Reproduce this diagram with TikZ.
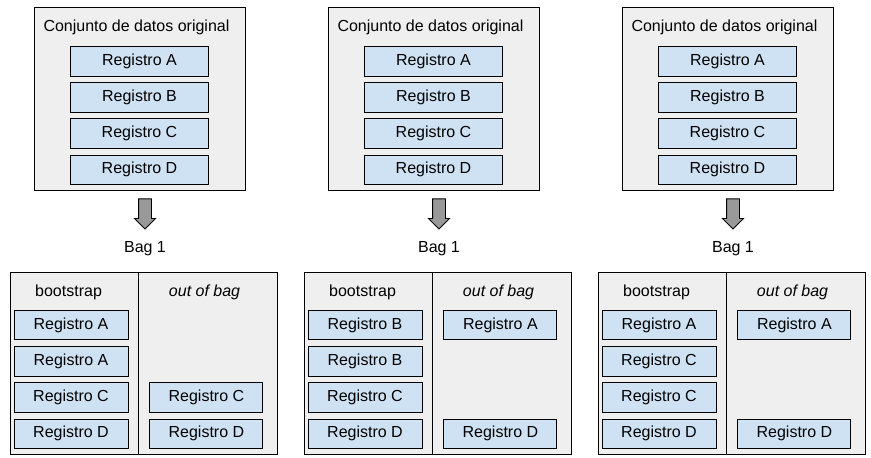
\documentclass[tikz,border=0pt]{standalone}
\usepackage{fontspec}
\setmainfont{Liberation Sans}
\usetikzlibrary{calc,positioning,shapes.arrows}
\definecolor{boxgray}{HTML}{EFEFEF}
\definecolor{recblue}{HTML}{CFE2F3}
\definecolor{arrowgray}{HTML}{999999}

\begin{document}
\begin{tikzpicture}[x=1pt, y=1pt, line width=0.9pt, font=\fontsize{16}{19}\selectfont]
    % Define styles for boxes, records, arrows and headings
    \tikzstyle{dataset} = [draw, fill=boxgray, rectangle, minimum width=211pt, minimum height=183pt, inner sep=0pt]
    \tikzstyle{bagbox} = [draw, fill=boxgray, rectangle, minimum width=267pt, minimum height=182pt, inner sep=0pt, anchor=north]
    \tikzstyle{record} = [draw, fill=recblue, rectangle, minimum width=138pt, minimum height=29.5pt, inner sep=0pt]
    \tikzstyle{bootrec} = [record, minimum width=114pt]
    \tikzstyle{oobrec} = [record, minimum width=113pt]
    \tikzstyle{bigarrow} = [draw, fill=arrowgray, single arrow, shape border rotate=270, minimum height=30pt, minimum width=20pt, single arrow head extend=4pt, single arrow head indent=0pt, inner sep=6pt, anchor=tail]
    \tikzstyle{heading} = [inner sep=0pt, anchor=base]

    \useasboundingbox (0,0) rectangle (871,-458);

    % Original data sets
    \node [dataset] (dataset1) at (139.5,-98.5) {};
    \node [dataset, right of=dataset1, node distance=294pt] (dataset2) {};
    \node [dataset, right of=dataset2, node distance=294pt] (dataset3) {};

    \node [heading, anchor=base west] (title1) at ($(dataset1.north west)+(9.5,-24.7)$) {Conjunto de datos original};
    \node [heading, anchor=base west] (title2) at ($(dataset2.north west)+(9.5,-24.7)$) {Conjunto de datos original};
    \node [heading, anchor=base west] (title3) at ($(dataset3.north west)+(9.5,-24.7)$) {Conjunto de datos original};

    \node [record, below=39.5pt of dataset1.north] (rega1) {Registro A};
    \node [record, below=5.8pt of rega1] (regb1) {Registro B};
    \node [record, below=5.8pt of regb1] (regc1) {Registro C};
    \node [record, below=5.8pt of regc1] (regd1) {Registro D};

    \node [record, below=39.5pt of dataset2.north] (rega2) {Registro A};
    \node [record, below=5.8pt of rega2] (regb2) {Registro B};
    \node [record, below=5.8pt of regb2] (regc2) {Registro C};
    \node [record, below=5.8pt of regc2] (regd2) {Registro D};

    \node [record, below=39.5pt of dataset3.north] (rega3) {Registro A};
    \node [record, below=5.8pt of rega3] (regb3) {Registro B};
    \node [record, below=5.8pt of regb3] (regc3) {Registro C};
    \node [record, below=5.8pt of regc3] (regd3) {Registro D};

    % Arrows and bag labels
    \node [bigarrow] (arrow1) at ($(dataset1.south)+(5.5,-8)$) {};
    \node [bigarrow] (arrow2) at ($(dataset2.south)+(5.5,-8)$) {};
    \node [bigarrow] (arrow3) at ($(dataset3.south)+(5.5,-8)$) {};
    \node [heading] (baglabel1) at ($(arrow1.tip)+(0,-22.5)$) {Bag 1};
    \node [heading] (baglabel2) at ($(arrow2.tip)+(0,-22.5)$) {Bag 1};
    \node [heading] (baglabel3) at ($(arrow3.tip)+(0,-22.5)$) {Bag 1};

    % Bags, split into bootstrap and out of bag
    \node [bagbox] (bag1) at ($(dataset1.south)+(4,-82)$) {};
    \node [bagbox] (bag2) at ($(dataset2.south)+(4,-82)$) {};
    \node [bagbox] (bag3) at ($(dataset3.south)+(4,-82)$) {};
    \draw ($(bag1.north west)+(129,0)$) -- ($(bag1.south west)+(129,0)$);
    \draw ($(bag2.north west)+(129,0)$) -- ($(bag2.south west)+(129,0)$);
    \draw ($(bag3.north west)+(129,0)$) -- ($(bag3.south west)+(129,0)$);

    \node [heading] (boot1) at ($(bag1.north west)+(59,-24)$) {bootstrap};
    \node [heading] (oob1) at ($(bag1.north west)+(195,-24)$) {\itshape out of bag};
    \node [heading] (boot2) at ($(bag2.north west)+(59,-24)$) {bootstrap};
    \node [heading] (oob2) at ($(bag2.north west)+(195,-24)$) {\itshape out of bag};
    \node [heading] (boot3) at ($(bag3.north west)+(59,-24)$) {bootstrap};
    \node [heading] (oob3) at ($(bag3.north west)+(195,-24)$) {\itshape out of bag};

    % Bag 1 records
    \node [bootrec, anchor=north west] (boota1) at ($(bag1.north west)+(4,-37.5)$) {Registro A};
    \node [bootrec, below=5.8pt of boota1] (bootb1) {Registro A};
    \node [bootrec, below=5.8pt of bootb1] (bootc1) {Registro C};
    \node [bootrec, below=5.8pt of bootc1] (bootd1) {Registro D};
    \node [oobrec, right=21pt of bootc1] (oobc1) {Registro C};
    \node [oobrec, right=21pt of bootd1] (oobd1) {Registro D};

    % Bag 2 records
    \node [bootrec, anchor=north west] (boota2) at ($(bag2.north west)+(4,-37.5)$) {Registro B};
    \node [bootrec, below=5.8pt of boota2] (bootb2) {Registro B};
    \node [bootrec, below=5.8pt of bootb2] (bootc2) {Registro C};
    \node [bootrec, below=5.8pt of bootc2] (bootd2) {Registro D};
    \node [oobrec, right=21pt of boota2] (ooba2) {Registro A};
    \node [oobrec, right=21pt of bootd2] (oobd2) {Registro D};

    % Bag 3 records
    \node [bootrec, anchor=north west] (boota3) at ($(bag3.north west)+(4,-37.5)$) {Registro A};
    \node [bootrec, below=5.8pt of boota3] (bootb3) {Registro C};
    \node [bootrec, below=5.8pt of bootb3] (bootc3) {Registro C};
    \node [bootrec, below=5.8pt of bootc3] (bootd3) {Registro D};
    \node [oobrec, right=21pt of boota3] (ooba3) {Registro A};
    \node [oobrec, right=21pt of bootd3] (oobd3) {Registro D};
\end{tikzpicture}
\end{document}
